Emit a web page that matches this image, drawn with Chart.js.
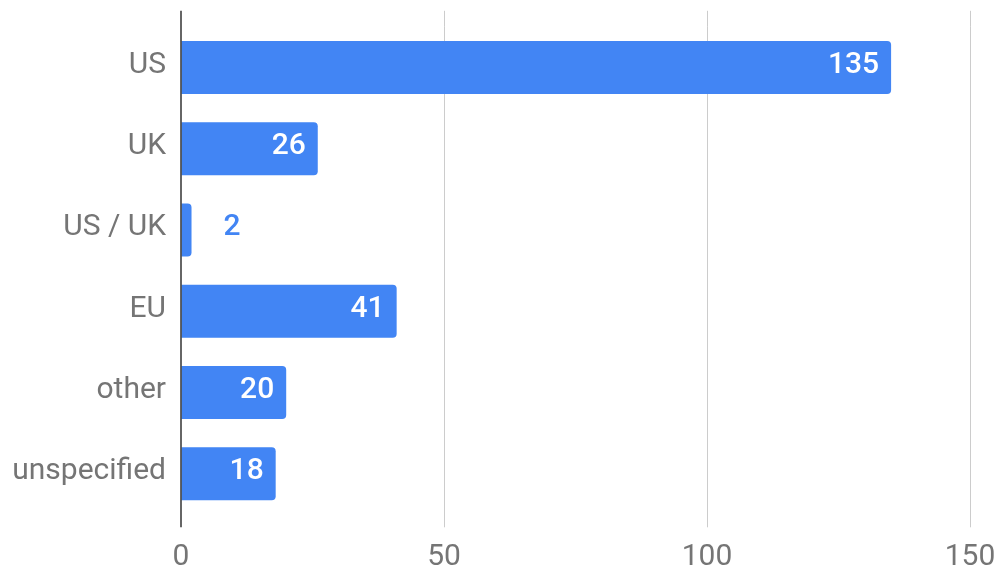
<!DOCTYPE html>
<html>
<head>
<meta charset="utf-8">
<script src="https://cdn.jsdelivr.net/npm/chart.js@4/dist/chart.umd.min.js"></script>
<style>
  html, body { margin: 0; padding: 0; background: #fff; }
  #wrap { width: 1000px; height: 577px; }
</style>
</head>
<body>
<div id="wrap"><canvas id="canvas"></canvas></div>
<script>
const regions = ["US", "UK", "US / UK", "EU", "other", "unspecified"];
const counts = [135, 26, 2, 41, 20, 18];
const xTicks = [0, 50, 100, 150];

const blue = "#4285F4";
const grey = "#757575";

// grid lines in the reference run a bit past the bar band at top
const gridExtend = {
    id: "gridExtend",
    beforeDatasetsDraw(chart) {
        const { ctx, chartArea, scales: { x } } = chart;
        ctx.save();
        ctx.strokeStyle = "#cccccc";
        ctx.lineWidth = 1;
        xTicks.forEach((v) => {
            if (v === 0) return;
            const px = Math.round(x.getPixelForValue(v)) + 0.5;
            ctx.beginPath();
            ctx.moveTo(px, chartArea.top - 16);
            ctx.lineTo(px, chartArea.top);
            ctx.stroke();
        });
        ctx.restore();
    },
    afterDatasetsDraw(chart) {
        const { ctx, chartArea, scales: { x } } = chart;
        const px = x.getPixelForValue(0);
        ctx.save();
        ctx.strokeStyle = "#333333";
        ctx.lineWidth = 1.5;
        ctx.beginPath();
        ctx.moveTo(px, chartArea.top - 16);
        ctx.lineTo(px, chartArea.bottom + 13);
        ctx.stroke();
        ctx.restore();
    }
};

const barLabels = {
    id: "barLabels",
    afterDatasetsDraw(chart) {
        const { ctx } = chart;
        const meta = chart.getDatasetMeta(0);
        ctx.save();
        ctx.font = "500 30px Roboto";
        ctx.textBaseline = "middle";
        meta.data.forEach((bar, i) => {
            const txt = String(counts[i]);
            const w = ctx.measureText(txt).width;
            const len = bar.x - bar.base;
            const y = bar.y - 2;
            if (w + 24 < len) {
                ctx.fillStyle = "#ffffff";
                ctx.textAlign = "right";
                ctx.fillText(txt, bar.x - 12, y);
            } else {
                ctx.fillStyle = blue;
                ctx.textAlign = "left";
                ctx.fillText(txt, bar.x + 32, y);
            }
        });
        ctx.restore();
    }
};

new Chart(document.getElementById("canvas"), {
    type: "bar",
    data: {
        labels: regions,
        datasets: [{
            data: counts,
            backgroundColor: blue,
            borderRadius: 4,
            barPercentage: 0.652,
            categoryPercentage: 1
        }]
    },
    options: {
        indexAxis: "y",
        responsive: true,
        maintainAspectRatio: false,
        animation: false,
        layout: { padding: { top: 26.8, right: 30, left: 0, bottom: 0 } },
        plugins: { legend: { display: false }, tooltip: { enabled: false } },
        scales: {
            x: {
                min: 0,
                max: 150,
                afterBuildTicks: (s) => { s.ticks = xTicks.map((v) => ({ value: v })); },
                afterFit: (s) => {
                    s.height = 62.7;
                    s.paddingLeft = 0;
                    s.paddingRight = 0;
                },
                border: { display: false },
                grid: {
                    color: (c) => (c.tick && c.tick.value === 0 ? "rgba(0,0,0,0)" : "#cccccc"),
                    lineWidth: 1,
                    tickLength: 13
                },
                ticks: {
                    color: grey,
                    padding: 12,
                    font: { family: "Roboto", size: 30 }
                }
            },
            y: {
                afterFit: (s) => {
                    s.width = 181;
                    s.paddingTop = 0;
                    s.paddingBottom = 0;
                },
                border: { display: false },
                grid: { display: false, drawTicks: false },
                ticks: {
                    color: grey,
                    padding: 15,
                    labelOffset: -2,
                    font: { family: "Roboto", size: 30 }
                }
            }
        }
    },
    plugins: [gridExtend, barLabels]
});
</script>
</body>
</html>
